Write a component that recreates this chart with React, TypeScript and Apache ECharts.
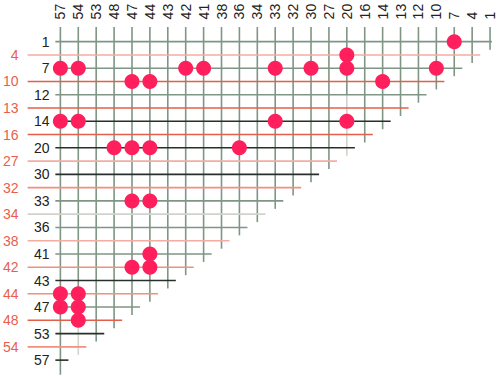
import React, { useEffect, useRef } from "react";
import * as echarts from "echarts";

// Column values (top axis, left to right)
const colValues = [57, 54, 53, 48, 47, 44, 43, 42, 41, 38, 36, 34, 33, 32, 30, 27, 20, 16, 14, 13, 12, 10, 7, 4, 1];
// Row values (left axis, top to bottom)
const rowValues = [1, 4, 7, 10, 12, 13, 14, 16, 20, 27, 30, 32, 33, 34, 36, 38, 41, 42, 43, 44, 47, 48, 53, 54, 57];
// Rows whose label is drawn in red
const redLabelRows = [4, 10, 13, 16, 27, 32, 34, 38, 42, 44, 48, 54];
// Kind of each row's line
const rowLineKinds = [
  "green", "pale", "green", "red", "green", "red", "black", "red", "black", "pale",
  "black", "salmon", "green", "grey", "green", "pale", "green", "salmon", "black", "salmon",
  "green", "red", "black", "salmon", "black",
];
// Dots: [row value, column value]
const dots: [number, number][] = [
  [1, 7], [4, 20],
  [7, 57], [7, 54], [7, 42], [7, 41], [7, 33], [7, 30], [7, 20], [7, 10],
  [10, 47], [10, 44], [10, 14],
  [14, 57], [14, 54], [14, 33], [14, 20],
  [20, 48], [20, 47], [20, 44], [20, 36],
  [33, 47], [33, 44],
  [41, 44], [42, 47], [42, 44],
  [44, 57], [44, 54], [47, 57], [47, 54], [48, 54],
];
// Columns whose line turns grey from a given row value downward: [column value, row value]
const fadedColumns: [number, number][] = [[20, 12], [54, 48]];

const COLORS: Record<string, string> = {
  green: "#7f9585",
  black: "#27302b",
  red: "#e35f4a",
  salmon: "#f0907f",
  pale: "#f5aca2",
  grey: "#d2d2cd",
};
const LABEL_DARK = "#222222";
const LABEL_RED = "#e8604c";
const DOT = "#fe1f5c";
const FONT = "'Liberation Sans', Arial, Helvetica, sans-serif";
const FONT_SIZE = 14;

export default function App() {
  const ref = useRef<HTMLDivElement>(null);
  useEffect(() => {
    if (!ref.current) return;
    const chart = echarts.init(ref.current, undefined, { renderer: "svg" });
    const n = rowValues.length;

    const vData: number[][] = [];
    const vColors: string[] = [];
    colValues.forEach((c, j) => {
      const endRow = rowValues.indexOf(c);
      const end = endRow + (j === 0 ? 1.1 : 0.6);
      const fade = fadedColumns.find((f) => f[0] === c);
      if (fade) {
        const fr = rowValues.indexOf(fade[1]);
        vData.push([j, -1.1, j, fr]);
        vColors.push(COLORS.green);
        vData.push([j, fr, j, end]);
        vColors.push(COLORS.grey);
      } else {
        vData.push([j, -1.1, j, end]);
        vColors.push(COLORS.green);
      }
    });

    const hData: number[][] = [];
    const hColors: string[] = [];
    rowValues.forEach((r, i) => {
      const colIdx = colValues.indexOf(r);
      const start = redLabelRows.includes(r) ? -1.83 : -0.28;
      hData.push([start, i, colIdx + (i === 0 ? 0.1 : 0.45), i]);
      hColors.push(COLORS[rowLineKinds[i]]);
    });

    const lineSeries = (data: number[][], colors: string[], z: number) => ({
      type: "custom",
      silent: true,
      z,
      clip: false,
      encode: { x: [0, 2], y: [1, 3] },
      data,
      renderItem: (params: any, api: any) => {
        const p1 = api.coord([api.value(0), api.value(1)]);
        const p2 = api.coord([api.value(2), api.value(3)]);
        return {
          type: "line",
          shape: { x1: p1[0], y1: p1[1], x2: p2[0], y2: p2[1] },
          style: { stroke: colors[params.dataIndex], lineWidth: 1.6 },
        };
      },
    });

    const rowLabel = (red: boolean) => (v: number) => {
      if (!Number.isInteger(v) || v < 0 || v >= n) return "";
      const r = rowValues[v];
      return redLabelRows.includes(r) === red ? String(r) : "";
    };

    const yBase = {
      type: "value",
      inverse: true,
      min: -1,
      max: 25,
      interval: 1,
      position: "left",
      axisLine: { show: false },
      axisTick: { show: false },
      splitLine: { show: false },
    };

    chart.setOption({
      animation: false,
      grid: { left: 22, top: 28.4, width: 477, height: 345 },
      xAxis: {
        type: "value",
        position: "top",
        min: -2,
        max: 24.5,
        interval: 1,
        axisLine: { show: false },
        axisTick: { show: false },
        splitLine: { show: false },
        axisLabel: {
          rotate: 90,
          margin: 9,
          fontSize: FONT_SIZE,
          fontFamily: FONT,
          color: LABEL_DARK,
          formatter: (v: number) =>
            Number.isInteger(v) && v >= 0 && v < colValues.length ? String(colValues[v]) : "",
        },
      },
      yAxis: [
        {
          ...yBase,
          offset: -31,
          axisLabel: { margin: 6, fontSize: FONT_SIZE, fontFamily: FONT, color: LABEL_DARK, formatter: rowLabel(false) },
        },
        {
          ...yBase,
          offset: 0,
          axisLabel: { margin: 6, fontSize: FONT_SIZE, fontFamily: FONT, color: LABEL_RED, formatter: rowLabel(true) },
        },
      ],
      series: [
        lineSeries(vData, vColors, 1),
        lineSeries(hData, hColors, 2),
        {
          type: "scatter",
          z: 3,
          silent: true,
          symbolSize: 15,
          itemStyle: { color: DOT, opacity: 1 },
          data: dots.map(([r, c]) => [colValues.indexOf(c), rowValues.indexOf(r)]),
        },
      ],
    });
    return () => chart.dispose();
  }, []);
  return (
    <div
      ref={ref}
      style={{ position: "fixed", left: 0, top: 0, width: 500, height: 376, background: "#fff" }}
    />
  );
}
